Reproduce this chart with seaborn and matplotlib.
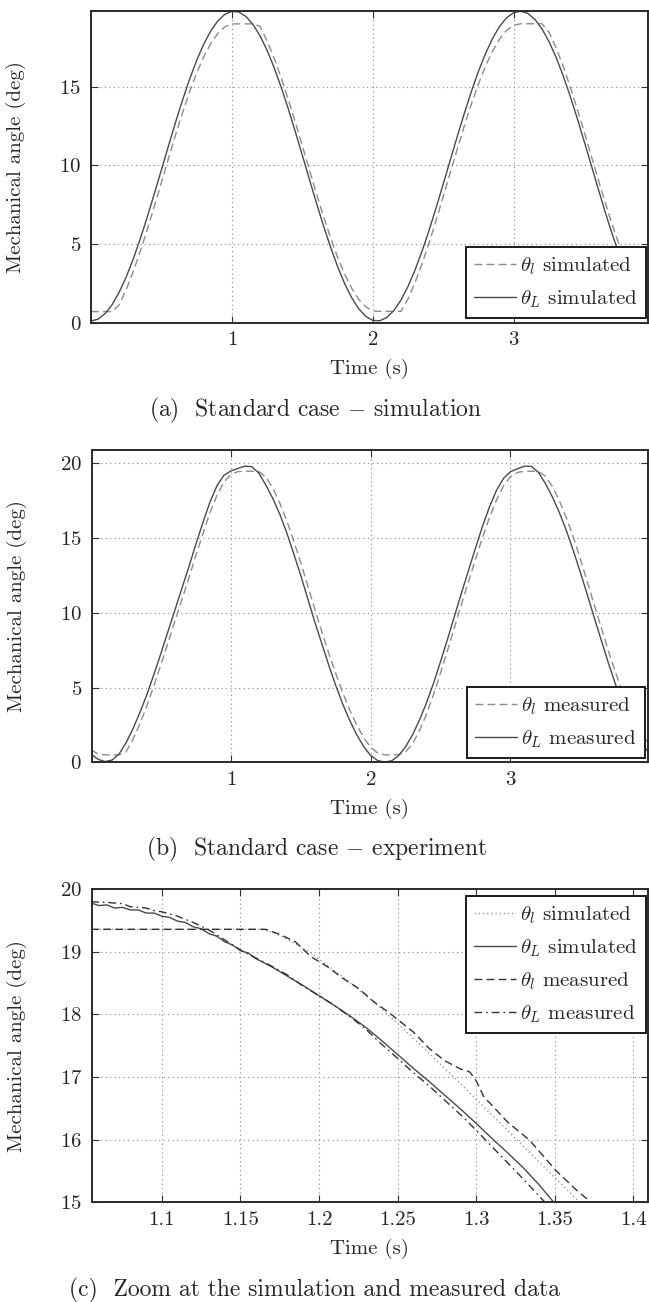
import matplotlib
matplotlib.use("Agg")
import matplotlib.pyplot as plt
import numpy as np
import seaborn as sns
from matplotlib.ticker import FuncFormatter

# time grid for panels (a) and (b), one sample every 0.05 s
t_ab = np.round(np.arange(81) * 0.05, 2)

# (a) simulation
theta_L_sim = [0.10, 0.22, 0.57, 1.14, 1.93, 2.90, 4.05, 5.34, 6.73, 8.21,
               9.72, 11.24, 12.73, 14.15, 15.48, 16.67, 17.70, 18.54, 19.18, 19.60,
               19.79, 19.74, 19.46, 18.95, 18.23, 17.31, 16.21, 14.96, 13.60, 12.14,
               10.64, 9.11, 7.61, 6.16, 4.81, 3.57, 2.49, 1.59, 0.89, 0.40,
               0.14, 0.12, 0.33, 0.77, 1.43, 2.30, 3.35, 4.55, 5.88, 7.31,
               8.81, 10.33, 11.84, 13.31, 14.70, 15.97, 17.10, 18.06, 18.83, 19.38,
               19.70, 19.80, 19.66, 19.28, 18.69, 17.88, 16.89, 15.73, 14.43, 13.02,
               11.54, 10.03, 8.51, 7.02, 5.61, 4.30, 3.12, 2.11, 1.28, 0.67,
               0.27]
theta_l_sim = [0.70, 0.70, 0.70, 0.70, 1.13, 2.10, 3.25, 4.54, 5.93, 7.41,
               8.92, 10.44, 11.93, 13.35, 14.68, 15.87, 16.90, 17.74, 18.38, 18.80,
               18.99, 18.99, 18.99, 18.99, 18.83, 17.91, 16.81, 15.56, 14.20, 12.74,
               11.24, 9.71, 8.21, 6.76, 5.41, 4.17, 3.09, 2.19, 1.49, 1.00,
               0.74, 0.72, 0.72, 0.72, 0.72, 1.50, 2.55, 3.75, 5.08, 6.51,
               8.01, 9.53, 11.04, 12.51, 13.90, 15.17, 16.30, 17.26, 18.03, 18.58,
               18.90, 19.00, 19.00, 19.00, 19.00, 18.48, 17.49, 16.33, 15.03, 13.62,
               12.14, 10.63, 9.11, 7.62, 6.21, 4.90, 3.72, 2.71, 1.88, 1.27,
               0.87]

# (b) experiment
theta_L_meas = [0.55, 0.20, 0.05, 0.15, 0.55, 1.30, 2.25, 3.35, 4.55, 5.90,
                7.30, 8.75, 10.20, 11.65, 13.10, 14.60, 16.05, 17.40, 18.50, 19.20,
                19.50, 19.66, 19.82, 19.78, 19.35, 18.55, 17.65, 16.60, 15.35, 13.95,
                12.50, 10.95, 9.40, 7.95, 6.50, 5.15, 3.90, 2.80, 1.85, 1.05,
                0.45, 0.12, 0.02, 0.10, 0.45, 1.05, 1.85, 2.85, 4.00, 5.30,
                6.75, 8.25, 9.80, 11.35, 12.85, 14.35, 15.80, 17.10, 18.20, 19.00,
                19.45, 19.64, 19.82, 19.80, 19.40, 18.65, 17.75, 16.70, 15.50, 14.15,
                12.70, 11.20, 9.65, 8.15, 6.65, 5.25, 3.95, 2.80, 1.85, 1.10,
                0.55]
theta_l_meas = [0.85, 0.55, 0.50, 0.50, 0.50, 0.70, 1.55, 2.60, 3.80, 5.15,
                6.55, 8.00, 9.45, 10.90, 12.35, 13.85, 15.30, 16.70, 17.85, 18.75,
                19.25, 19.45, 19.48, 19.48, 19.45, 19.10, 18.35, 17.35, 16.15, 14.80,
                13.35, 11.80, 10.25, 8.75, 7.30, 5.95, 4.65, 3.50, 2.50, 1.65,
                1.00, 0.62, 0.50, 0.50, 0.52, 0.70, 1.25, 2.15, 3.25, 4.55,
                6.00, 7.50, 9.05, 10.60, 12.10, 13.60, 15.05, 16.40, 17.55, 18.50,
                19.10, 19.40, 19.48, 19.48, 19.45, 19.15, 18.45, 17.50, 16.35, 15.05,
                13.60, 12.05, 10.50, 9.00, 7.45, 6.05, 4.70, 3.55, 2.55, 1.75,
                1.10]

# (c) zoom
tc_l_sim = [1.055, 1.165, 1.175, 1.185, 1.195, 1.205, 1.215, 1.225, 1.235, 1.245,
            1.255, 1.265, 1.275, 1.285, 1.295, 1.305, 1.315, 1.325, 1.335, 1.345,
            1.355, 1.365, 1.375]
vc_l_sim = [19.36, 19.36, 19.26, 19.13, 18.98, 18.79, 18.60, 18.40, 18.19, 17.97,
            17.74, 17.50, 17.26, 17.02, 16.77, 16.52, 16.27, 16.02, 15.77, 15.52,
            15.27, 15.02, 14.77]
tc_L_sim = [1.055, 1.060, 1.065, 1.070, 1.075, 1.080, 1.085, 1.090, 1.095, 1.100,
            1.105, 1.110, 1.115, 1.120, 1.125, 1.130, 1.135, 1.140, 1.145, 1.150,
            1.155, 1.160, 1.170, 1.180, 1.190, 1.200, 1.210, 1.220, 1.230, 1.240,
            1.250, 1.260, 1.270, 1.280, 1.290, 1.300, 1.310, 1.320, 1.330, 1.340,
            1.350, 1.360]
vc_L_sim = [19.78, 19.74, 19.75, 19.70, 19.71, 19.67, 19.67, 19.62, 19.62, 19.57,
            19.55, 19.49, 19.47, 19.40, 19.37, 19.29, 19.25, 19.16, 19.11, 19.02,
            18.98, 18.89, 18.76, 18.61, 18.46, 18.30, 18.14, 17.97, 17.79, 17.58,
            17.36, 17.14, 16.93, 16.71, 16.49, 16.26, 16.02, 15.79, 15.55, 15.28,
            14.98, 14.68]
tc_l_meas = [1.055, 1.166, 1.175, 1.185, 1.195, 1.205, 1.215, 1.225, 1.235, 1.245,
             1.260, 1.270, 1.280, 1.290, 1.296, 1.300, 1.305, 1.310, 1.320, 1.334,
             1.343, 1.351, 1.364, 1.373, 1.380]
vc_l_meas = [19.36, 19.36, 19.28, 19.16, 18.92, 18.77, 18.58, 18.42, 18.20, 18.02,
             17.72, 17.46, 17.26, 17.13, 17.08, 16.94, 16.68, 16.55, 16.28, 15.99,
             15.73, 15.50, 15.19, 15.00, 14.84]
tc_L_meas = [1.055, 1.065, 1.075, 1.080, 1.090, 1.095, 1.100, 1.110, 1.115, 1.120,
             1.130, 1.140, 1.150, 1.160, 1.170, 1.180, 1.190, 1.200, 1.210, 1.220,
             1.230, 1.240, 1.250, 1.260, 1.270, 1.280, 1.290, 1.300, 1.310, 1.320,
             1.330, 1.340, 1.350]
vc_L_meas = [19.80, 19.79, 19.77, 19.72, 19.70, 19.66, 19.64, 19.57, 19.52, 19.47,
             19.35, 19.19, 19.03, 18.90, 18.77, 18.63, 18.45, 18.30, 18.14, 17.96,
             17.76, 17.52, 17.30, 17.07, 16.86, 16.63, 16.40, 16.15, 15.89, 15.63,
             15.37, 15.10, 14.83]

sns.set_theme(style="ticks")
plt.rcParams["font.family"] = ["cmr10", "DejaVu Serif"]
plt.rcParams["mathtext.fontset"] = "cm"
plt.rcParams["axes.formatter.use_mathtext"] = True
plt.rcParams["axes.unicode_minus"] = False

FS = 15
TXT = "#262626"
DASH = (0, (5.6, 3.1))
DOT = (0, (1, 2))
DASHDOT = (0, (5.6, 2.8, 1.2, 2.8))

fig = plt.figure(figsize=(6.49, 13.02), dpi=100)
ax_a = fig.add_axes([0.1402, 0.7522, 0.8575, 0.2396])
ax_b = fig.add_axes([0.1414, 0.4145, 0.8563, 0.2399])
ax_c = fig.add_axes([0.1414, 0.0766, 0.8563, 0.2404])


def line(ax, x, y, color, ls, label):
    sns.lineplot(x=x, y=y, ax=ax, color=color, linestyle=ls, linewidth=1.0,
                 label=label, estimator=None, sort=False)


def style(ax):
    ax.set_axisbelow(True)
    ax.grid(True, linestyle=(0, (1, 3)), color="#8a8a8a", linewidth=0.8)
    ax.tick_params(direction="in", top=True, right=True, length=5, width=0.8,
                   color="#333333", labelcolor=TXT, labelsize=FS)
    ax.tick_params(axis="x", pad=6)
    ax.tick_params(axis="y", pad=7)
    for s in ax.spines.values():
        s.set_color("#2a2a2a")
        s.set_linewidth(1.4)
    ax.set_xlabel("Time (s)", fontsize=FS, color=TXT)
    ax.set_ylabel("Mechanical angle (deg)", fontsize=FS, color=TXT)
    ax.xaxis.set_label_coords(0.5, -0.116)
    ax.yaxis.set_label_coords(-0.117, 0.5)


def legend(ax, loc, anchor):
    leg = ax.legend(loc=loc, bbox_to_anchor=anchor, frameon=True, fancybox=False,
                    framealpha=1, edgecolor="#1a1a1a", borderaxespad=0,
                    fontsize=FS, handlelength=2.0, handletextpad=0.2,
                    borderpad=0.4, labelspacing=0.55)
    leg.get_frame().set_linewidth(1.4)
    for t in leg.get_texts():
        t.set_color(TXT)


# (a)
line(ax_a, t_ab, theta_l_sim, "#8c8c8c", DASH, r"$\theta_l$ simulated")
line(ax_a, t_ab, theta_L_sim, "#4a4a4a", "-", r"$\theta_L$ simulated")
ax_a.set_xlim(0, 3.95)
ax_a.set_ylim(0, 19.83)
ax_a.set_xticks([1, 2, 3])
ax_a.set_yticks([0, 5, 10, 15])
style(ax_a)
legend(ax_a, "lower right", (0.9968, 0.014))

# (b)
line(ax_b, t_ab, theta_l_meas, "#8c8c8c", DASH, r"$\theta_l$ measured")
line(ax_b, t_ab, theta_L_meas, "#4a4a4a", "-", r"$\theta_L$ measured")
ax_b.set_xlim(0.005, 3.98)
ax_b.set_ylim(0, 20.9)
ax_b.set_xticks([1, 2, 3])
ax_b.set_yticks([0, 5, 10, 15, 20])
style(ax_b)
legend(ax_b, "lower right", (0.995, 0.0128))

# (c)
line(ax_c, tc_l_sim, vc_l_sim, "#9a9a9a", DOT, r"$\theta_l$ simulated")
line(ax_c, tc_L_sim, vc_L_sim, "#4a4a4a", "-", r"$\theta_L$ simulated")
line(ax_c, tc_l_meas, vc_l_meas, "#333333", DASH, r"$\theta_l$ measured")
line(ax_c, tc_L_meas, vc_L_meas, "#333333", DASHDOT, r"$\theta_L$ measured")
ax_c.set_xlim(1.0554, 1.409)
ax_c.set_ylim(15, 20)
ax_c.set_xticks([1.1, 1.15, 1.2, 1.25, 1.3, 1.35, 1.4])
ax_c.xaxis.set_major_formatter(FuncFormatter(lambda v, p: "{:g}".format(v)))
ax_c.set_yticks([15, 16, 17, 18, 19, 20])
style(ax_c)
legend(ax_c, "upper right", (0.9968, 0.9786))

# sub-captions
fig.text(0.487, 0.6851, r"(a)  Standard case $-$ simulation", ha="center", va="center",
         fontsize=17, color=TXT)
fig.text(0.487, 0.3472, r"(b)  Standard case $-$ experiment", ha="center", va="center",
         fontsize=17, color=TXT)
fig.text(0.485, 0.0092, "(c)  Zoom at the simulation and measured data", ha="center",
         va="center", fontsize=17, color=TXT)

fig.savefig("out.png", dpi=100)
